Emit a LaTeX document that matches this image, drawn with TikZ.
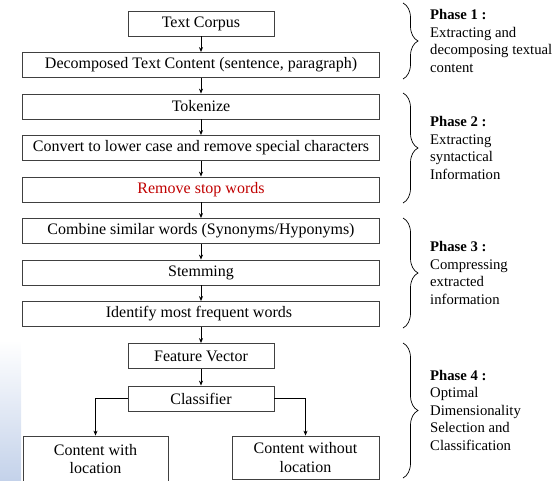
\documentclass[tikz,border=0pt]{standalone}
\usepackage{fontspec}
\setmainfont{Liberation Serif}
\usepackage{xcolor}
\usetikzlibrary{arrows.meta, decorations.pathreplacing}
\definecolor{stopred}{RGB}{192,0,0}
\definecolor{slideblue}{RGB}{196,210,234}
\tikzset{
	box/.style={draw=black!75, line width=0.8pt, minimum height=25pt, inner sep=2pt,
		font=\fontsize{16}{18.5}\selectfont, align=center},
	widebox/.style={box, minimum width=357pt},
	smallbox/.style={box, minimum width=146pt},
	flow/.style={-{Stealth[length=5pt,width=4pt]}, line width=0.8pt},
	phasebrace/.style={decorate, decoration={brace, amplitude=15pt}, line width=0.7pt},
	phasetext/.style={anchor=west, align=left, inner sep=0pt, font=\fontsize{14.7}{17.5}\selectfont}
}

\begin{document}
\begin{tikzpicture}[x=1pt, y=-1pt]
	\useasboundingbox (0,0) rectangle (560,480);
	% faint slide background, lower left
	\shade[top color=white, bottom color=slideblue] (0,340) rectangle (21,480);

	\node[smallbox] (corpus) at (201,23.5) {Text Corpus};
	\foreach \name/\y/\txt in {
		decomp/65/{Decomposed Text Content (sentence, paragraph)},
		token/106.5/{Tokenize},
		lower/148/{Convert to lower case and remove special characters},
		stop/189.5/{\textcolor{stopred}{Remove stop words}},
		combine/231/{Combine similar words (Synonyms/Hyponyms)},
		stem/272.5/{Stemming},
		freq/314/{Identify most frequent words}
	}{
		\node[widebox] (\name) at (201,\y) {\txt};
	}
	\node[smallbox] (feat) at (201,356) {Feature Vector};
	\node[smallbox] (clf) at (201,398.5) {Classifier};
	\node[box, minimum width=145pt, minimum height=46pt] (withloc) at (95.5,459) {Content with\\location};
	\node[box, minimum width=147pt, minimum height=43pt] (noloc) at (305.5,457.5) {Content without\\location};

	\foreach \a/\b in {corpus/decomp, decomp/token, token/lower, lower/stop,
		stop/combine, combine/stem, stem/freq, freq/feat, feat/clf}
		\draw[flow] (\a) -- (\b);
	\draw[flow] (clf.west) -| (withloc.north);
	\draw[flow] (clf.east) -| (noloc.north);

	% phase braces
	\foreach \n/\ya/\yb in {1/3/79, 2/93/203, 3/218/328, 4/343/478}{
		\coordinate (b\n top) at (403,\ya);
		\coordinate (b\n bot) at (403,\yb);
		\draw[phasebrace] (b\n top) -- (b\n bot);
	}
	\node[phasetext] (ph1) at (430,41) {\textbf{Phase 1 :}\\Extracting and\\decomposing textual\\content};
	\node[phasetext] (ph2) at (430,148) {\textbf{Phase 2 :}\\Extracting\\syntactical\\Information};
	\node[phasetext] (ph3) at (430,273) {\textbf{Phase 3 :}\\Compressing\\extracted\\information};
	\node[phasetext] (ph4) at (430,410) {\textbf{Phase 4 :}\\Optimal\\Dimensionality\\Selection and\\Classification};
\end{tikzpicture}
\end{document}
